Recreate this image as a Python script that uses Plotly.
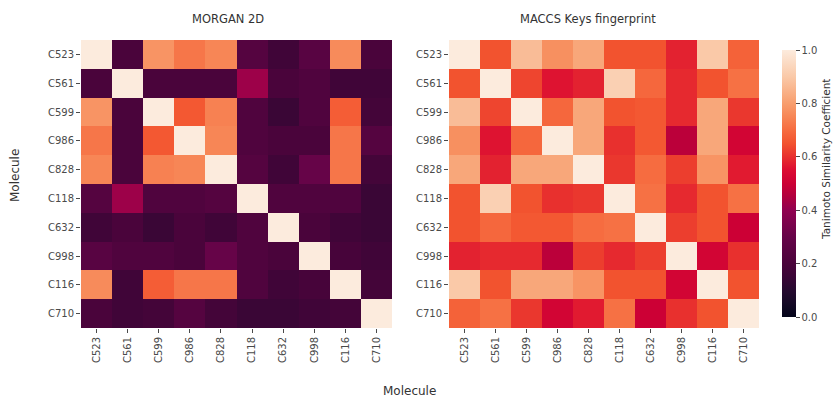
import plotly.graph_objects as go

molecules = ["C523", "C561", "C599", "C986", "C828", "C118", "C632", "C998", "C116", "C710"]

morgan_2d = [
    [1.00, 0.20, 0.78, 0.72, 0.75, 0.24, 0.17, 0.25, 0.76, 0.20],
    [0.20, 1.00, 0.20, 0.20, 0.20, 0.42, 0.20, 0.22, 0.17, 0.17],
    [0.78, 0.20, 1.00, 0.66, 0.74, 0.22, 0.15, 0.22, 0.67, 0.18],
    [0.72, 0.20, 0.66, 1.00, 0.75, 0.22, 0.20, 0.20, 0.72, 0.24],
    [0.75, 0.20, 0.74, 0.75, 1.00, 0.24, 0.17, 0.30, 0.72, 0.18],
    [0.24, 0.42, 0.22, 0.22, 0.24, 1.00, 0.22, 0.22, 0.22, 0.15],
    [0.17, 0.20, 0.15, 0.20, 0.17, 0.22, 1.00, 0.20, 0.17, 0.15],
    [0.25, 0.22, 0.22, 0.20, 0.30, 0.22, 0.20, 1.00, 0.19, 0.17],
    [0.76, 0.17, 0.67, 0.72, 0.72, 0.22, 0.17, 0.19, 1.00, 0.18],
    [0.20, 0.17, 0.18, 0.24, 0.18, 0.15, 0.15, 0.17, 0.18, 1.00],
]

maccs_keys = [
    [1.00, 0.65, 0.87, 0.77, 0.82, 0.65, 0.65, 0.58, 0.90, 0.68],
    [0.65, 1.00, 0.63, 0.56, 0.58, 0.92, 0.69, 0.59, 0.65, 0.71],
    [0.87, 0.63, 1.00, 0.69, 0.82, 0.65, 0.66, 0.59, 0.82, 0.61],
    [0.77, 0.56, 0.69, 1.00, 0.82, 0.60, 0.66, 0.47, 0.82, 0.52],
    [0.82, 0.58, 0.82, 0.82, 1.00, 0.61, 0.70, 0.62, 0.78, 0.57],
    [0.65, 0.92, 0.65, 0.60, 0.61, 1.00, 0.71, 0.59, 0.65, 0.71],
    [0.65, 0.69, 0.66, 0.66, 0.70, 0.71, 1.00, 0.62, 0.65, 0.50],
    [0.58, 0.59, 0.59, 0.47, 0.62, 0.59, 0.62, 1.00, 0.52, 0.60],
    [0.90, 0.65, 0.82, 0.82, 0.78, 0.65, 0.65, 0.52, 1.00, 0.65],
    [0.68, 0.71, 0.61, 0.52, 0.57, 0.71, 0.50, 0.60, 0.65, 1.00],
]

# rocket-style sequential palette
rocket = [
    [0.00, "#03051a"],
    [0.05, "#150a26"],
    [0.10, "#260a30"],
    [0.15, "#3a0636"],
    [0.20, "#4a043b"],
    [0.30, "#660448"],
    [0.40, "#900150"],
    [0.45, "#b0003e"],
    [0.50, "#cc0035"],
    [0.55, "#dc0c32"],
    [0.60, "#e8302e"],
    [0.65, "#f2532f"],
    [0.70, "#f66c40"],
    [0.75, "#f78656"],
    [0.80, "#f89e6e"],
    [0.90, "#fac9a8"],
    [1.00, "#fcebdd"],
]

W, H = 840, 397
FONT = "DejaVu Sans"
TICK_COLOR = "#4a4a4a"
TEXT_COLOR = "#333333"


def px_x(v):
    return v / W


def px_y(v):
    return 1 - v / H


fig = go.Figure()

fig.add_trace(go.Heatmap(
    z=morgan_2d, x=molecules, y=molecules,
    colorscale=rocket, zmin=0, zmax=1,
    xaxis="x", yaxis="y", showscale=False,
))

fig.add_trace(go.Heatmap(
    z=maccs_keys, x=molecules, y=molecules,
    colorscale=rocket, zmin=0, zmax=1,
    xaxis="x2", yaxis="y2",
    colorbar=dict(
        x=px_x(772), xanchor="left", xref="paper",
        y=px_y(40), yanchor="top", yref="paper",
        len=(327 - 40) / H, lenmode="fraction",
        thickness=14, thicknessmode="pixels",
        outlinewidth=0,
        tickmode="array", tickvals=[0, 0.2, 0.4, 0.6, 0.8, 1.0],
        ticktext=["0.0", "0.2", "0.4", "0.6", "0.8", "1.0"],
        ticks="outside", ticklen=4, tickcolor=TICK_COLOR,
        tickfont=dict(family=FONT, size=10, color=TICK_COLOR),
    ),
))

axis_common = dict(
    type="category", showgrid=False, zeroline=False, showline=False,
    ticks="outside", ticklen=4, tickcolor=TICK_COLOR,
    tickfont=dict(family=FONT, size=10, color=TICK_COLOR),
)


def label(text, x, y, size, angle=0):
    return dict(text=text, x=px_x(x), y=px_y(y), xref="paper", yref="paper",
                showarrow=False, xanchor="center", yanchor="middle", textangle=angle,
                font=dict(family=FONT, size=size, color=TEXT_COLOR))


fig.update_layout(
    width=W, height=H,
    margin=dict(l=0, r=0, t=0, b=0),
    paper_bgcolor="white", plot_bgcolor="white",
    xaxis=dict(domain=[px_x(81), px_x(392)], anchor="y", tickangle=-90, **axis_common),
    yaxis=dict(domain=[px_y(328), px_y(40)], anchor="x", autorange="reversed", **axis_common),
    xaxis2=dict(domain=[px_x(449), px_x(759)], anchor="y2", tickangle=-90, **axis_common),
    yaxis2=dict(domain=[px_y(328), px_y(40)], anchor="x2", autorange="reversed", **axis_common),
    annotations=[
        label("MORGAN 2D", 228, 19, 11.5),
        label("MACCS Keys fingerprint", 588, 19, 11.5),
        label("Molecule", 409, 391, 12),
        label("Molecule", 15, 176, 12, -90),
        label("Tanimoto Similarity Coefficient", 826, 160, 10.5, -90),
    ],
)

fig.write_html("out.html")
